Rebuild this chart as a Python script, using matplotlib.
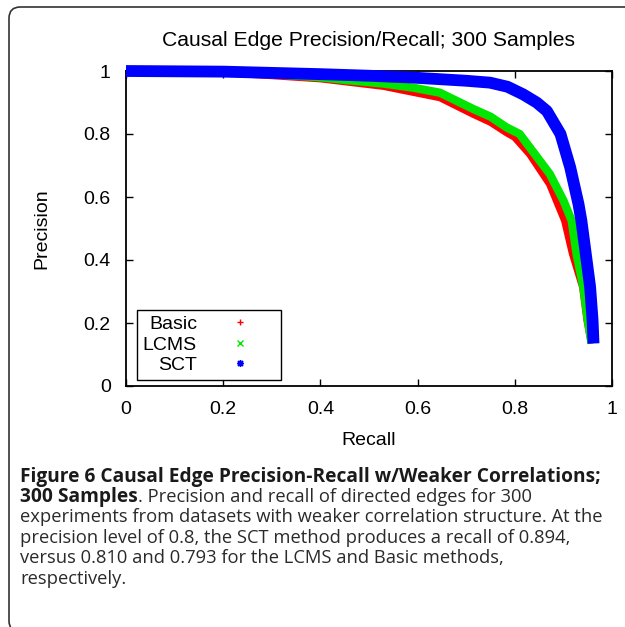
import matplotlib
matplotlib.use("Agg")
import matplotlib.pyplot as plt
from matplotlib.lines import Line2D
from matplotlib.patches import FancyBboxPatch

# -----------------------------------
# DATA
# -----------------------------------
basic_recall = [0.0, 0.10, 0.20, 0.30, 0.40, 0.454, 0.53, 0.591, 0.646, 0.715,
                0.75, 0.783, 0.80, 0.831, 0.872, 0.903, 0.919, 0.94, 0.949, 0.958]
basic_prec = [1.0, 1.0, 0.995, 0.986, 0.976, 0.966, 0.952, 0.933, 0.916, 0.863,
              0.838, 0.805, 0.79, 0.736, 0.641, 0.525, 0.42, 0.314, 0.209, 0.135]

lcms_recall = [0.0, 0.10, 0.20, 0.30, 0.40, 0.454, 0.53, 0.591, 0.646, 0.715,
               0.75, 0.783, 0.81, 0.831, 0.872, 0.90, 0.917, 0.927, 0.941, 0.95, 0.958]
lcms_prec = [1.0, 1.0, 0.997, 0.99, 0.98, 0.971, 0.96, 0.947, 0.931, 0.879,
             0.855, 0.821, 0.80, 0.757, 0.673, 0.589, 0.525, 0.42, 0.314, 0.209, 0.135]

sct_recall = [0.0, 0.20, 0.30, 0.40, 0.50, 0.591, 0.646, 0.70, 0.749, 0.785,
              0.817, 0.845, 0.866, 0.894, 0.914, 0.931, 0.937, 0.946, 0.955, 0.96, 0.962]
sct_prec = [1.0, 0.998, 0.994, 0.99, 0.985, 0.979, 0.974, 0.969, 0.963, 0.95,
            0.926, 0.90, 0.873, 0.80, 0.694, 0.578, 0.525, 0.42, 0.314, 0.209, 0.135]

series_names = ["Basic", "LCMS", "SCT"]
series_colors = ["#ff0000", "#00e600", "#0000ff"]
series_markers = ["+", "x", (8, 2, 0)]

ticks = [0, 0.2, 0.4, 0.6, 0.8, 1]
tick_labels = ["0", "0.2", "0.4", "0.6", "0.8", "1"]

caption_bold1 = "Figure 6 Causal Edge Precision-Recall w/Weaker Correlations;"
caption_bold2 = "300 Samples"
caption_lines = [
    ". Precision and recall of directed edges for 300",
    "experiments from datasets with weaker correlation structure. At the",
    "precision level of 0.8, the SCT method produces a recall of 0.894,",
    "versus 0.810 and 0.793 for the LCMS and Basic methods,",
    "respectively.",
]

# -----------------------------------
# FIGURE
# -----------------------------------
W, H = 625, 627
plt.rcParams["font.family"] = ["Liberation Sans", "DejaVu Sans"]
fig = plt.figure(figsize=(W / 100, H / 100), dpi=100)

def fx(px):
    return px / W

def fy(py):
    return 1 - py / H

ax = fig.add_axes([fx(126), fy(386), fx(612) - fx(126), fy(71) - fy(386)])

# thick bands stand in for the dense point clouds
widths = [5.5, 6, 8.5]
data = [(basic_recall, basic_prec), (lcms_recall, lcms_prec), (sct_recall, sct_prec)]
for (r, p), c, lw in zip(data, series_colors, widths):
    ax.plot(r, p, color=c, lw=lw, solid_capstyle="butt", clip_on=False, zorder=3)

ax.set_xlim(0, 1)
ax.set_ylim(0, 1)
ax.set_xticks(ticks)
ax.set_xticklabels(tick_labels)
ax.set_yticks(ticks)
ax.set_yticklabels(tick_labels)
ax.tick_params(direction="in", top=True, right=True, length=5, width=1,
               labelsize=14, pad=11)
for s in ax.spines.values():
    s.set_linewidth(1.3)

ax.set_xlabel("Recall", fontsize=14, labelpad=10)
ax.set_ylabel("Precision", fontsize=14, labelpad=24)

fig.text(fx(368), fy(46.5), "Causal Edge Precision/Recall; 300 Samples",
         fontsize=15.2, ha="center", va="baseline")

handles = [Line2D([], [], ls="none", marker=m, color=c, markersize=5, mew=1)
           for m, c in zip(series_markers, series_colors)]
leg = ax.legend(handles, series_names, loc="lower left",
                bbox_to_anchor=(0.0226, 0.019), borderaxespad=0,
                markerfirst=False, fontsize=14, handlelength=3.6,
                handletextpad=0.4, borderpad=0.3, labelspacing=0.15,
                fancybox=False, framealpha=1, edgecolor="black")
leg.get_frame().set_linewidth(1.0)

# -----------------------------------
# PAGE BORDER + CAPTION
# -----------------------------------
border = FancyBboxPatch((fx(9), fy(632)), fx(660) - fx(9), fy(7) - fy(632),
                        boxstyle="round,pad=0,rounding_size=0.018",
                        transform=fig.transFigure, fill=False,
                        edgecolor="#333333", lw=1.2, clip_on=False)
fig.patches.append(border)

cap_font = ["Open Sans", "DejaVu Sans"]
baselines = [482, 502, 522, 543, 563, 584]
fig.text(fx(20), fy(baselines[0]), caption_bold1, fontsize=13.8,
         fontweight="bold", family=cap_font, va="baseline", color="#1a1a1a")
t2 = fig.text(fx(20), fy(baselines[1]), caption_bold2, fontsize=13.8,
              fontweight="bold", family=cap_font, va="baseline", color="#1a1a1a")
renderer = fig.canvas.get_renderer()
bb = t2.get_window_extent(renderer)
fig.text(bb.x1 / W, fy(baselines[1]), caption_lines[0], fontsize=13.2,
         family=cap_font, va="baseline", color="#2a2a2a")
for line, b in zip(caption_lines[1:], baselines[2:]):
    fig.text(fx(20), fy(b), line, fontsize=13.2, family=cap_font,
             va="baseline", color="#2a2a2a")

fig.savefig("out.png", dpi=100)
